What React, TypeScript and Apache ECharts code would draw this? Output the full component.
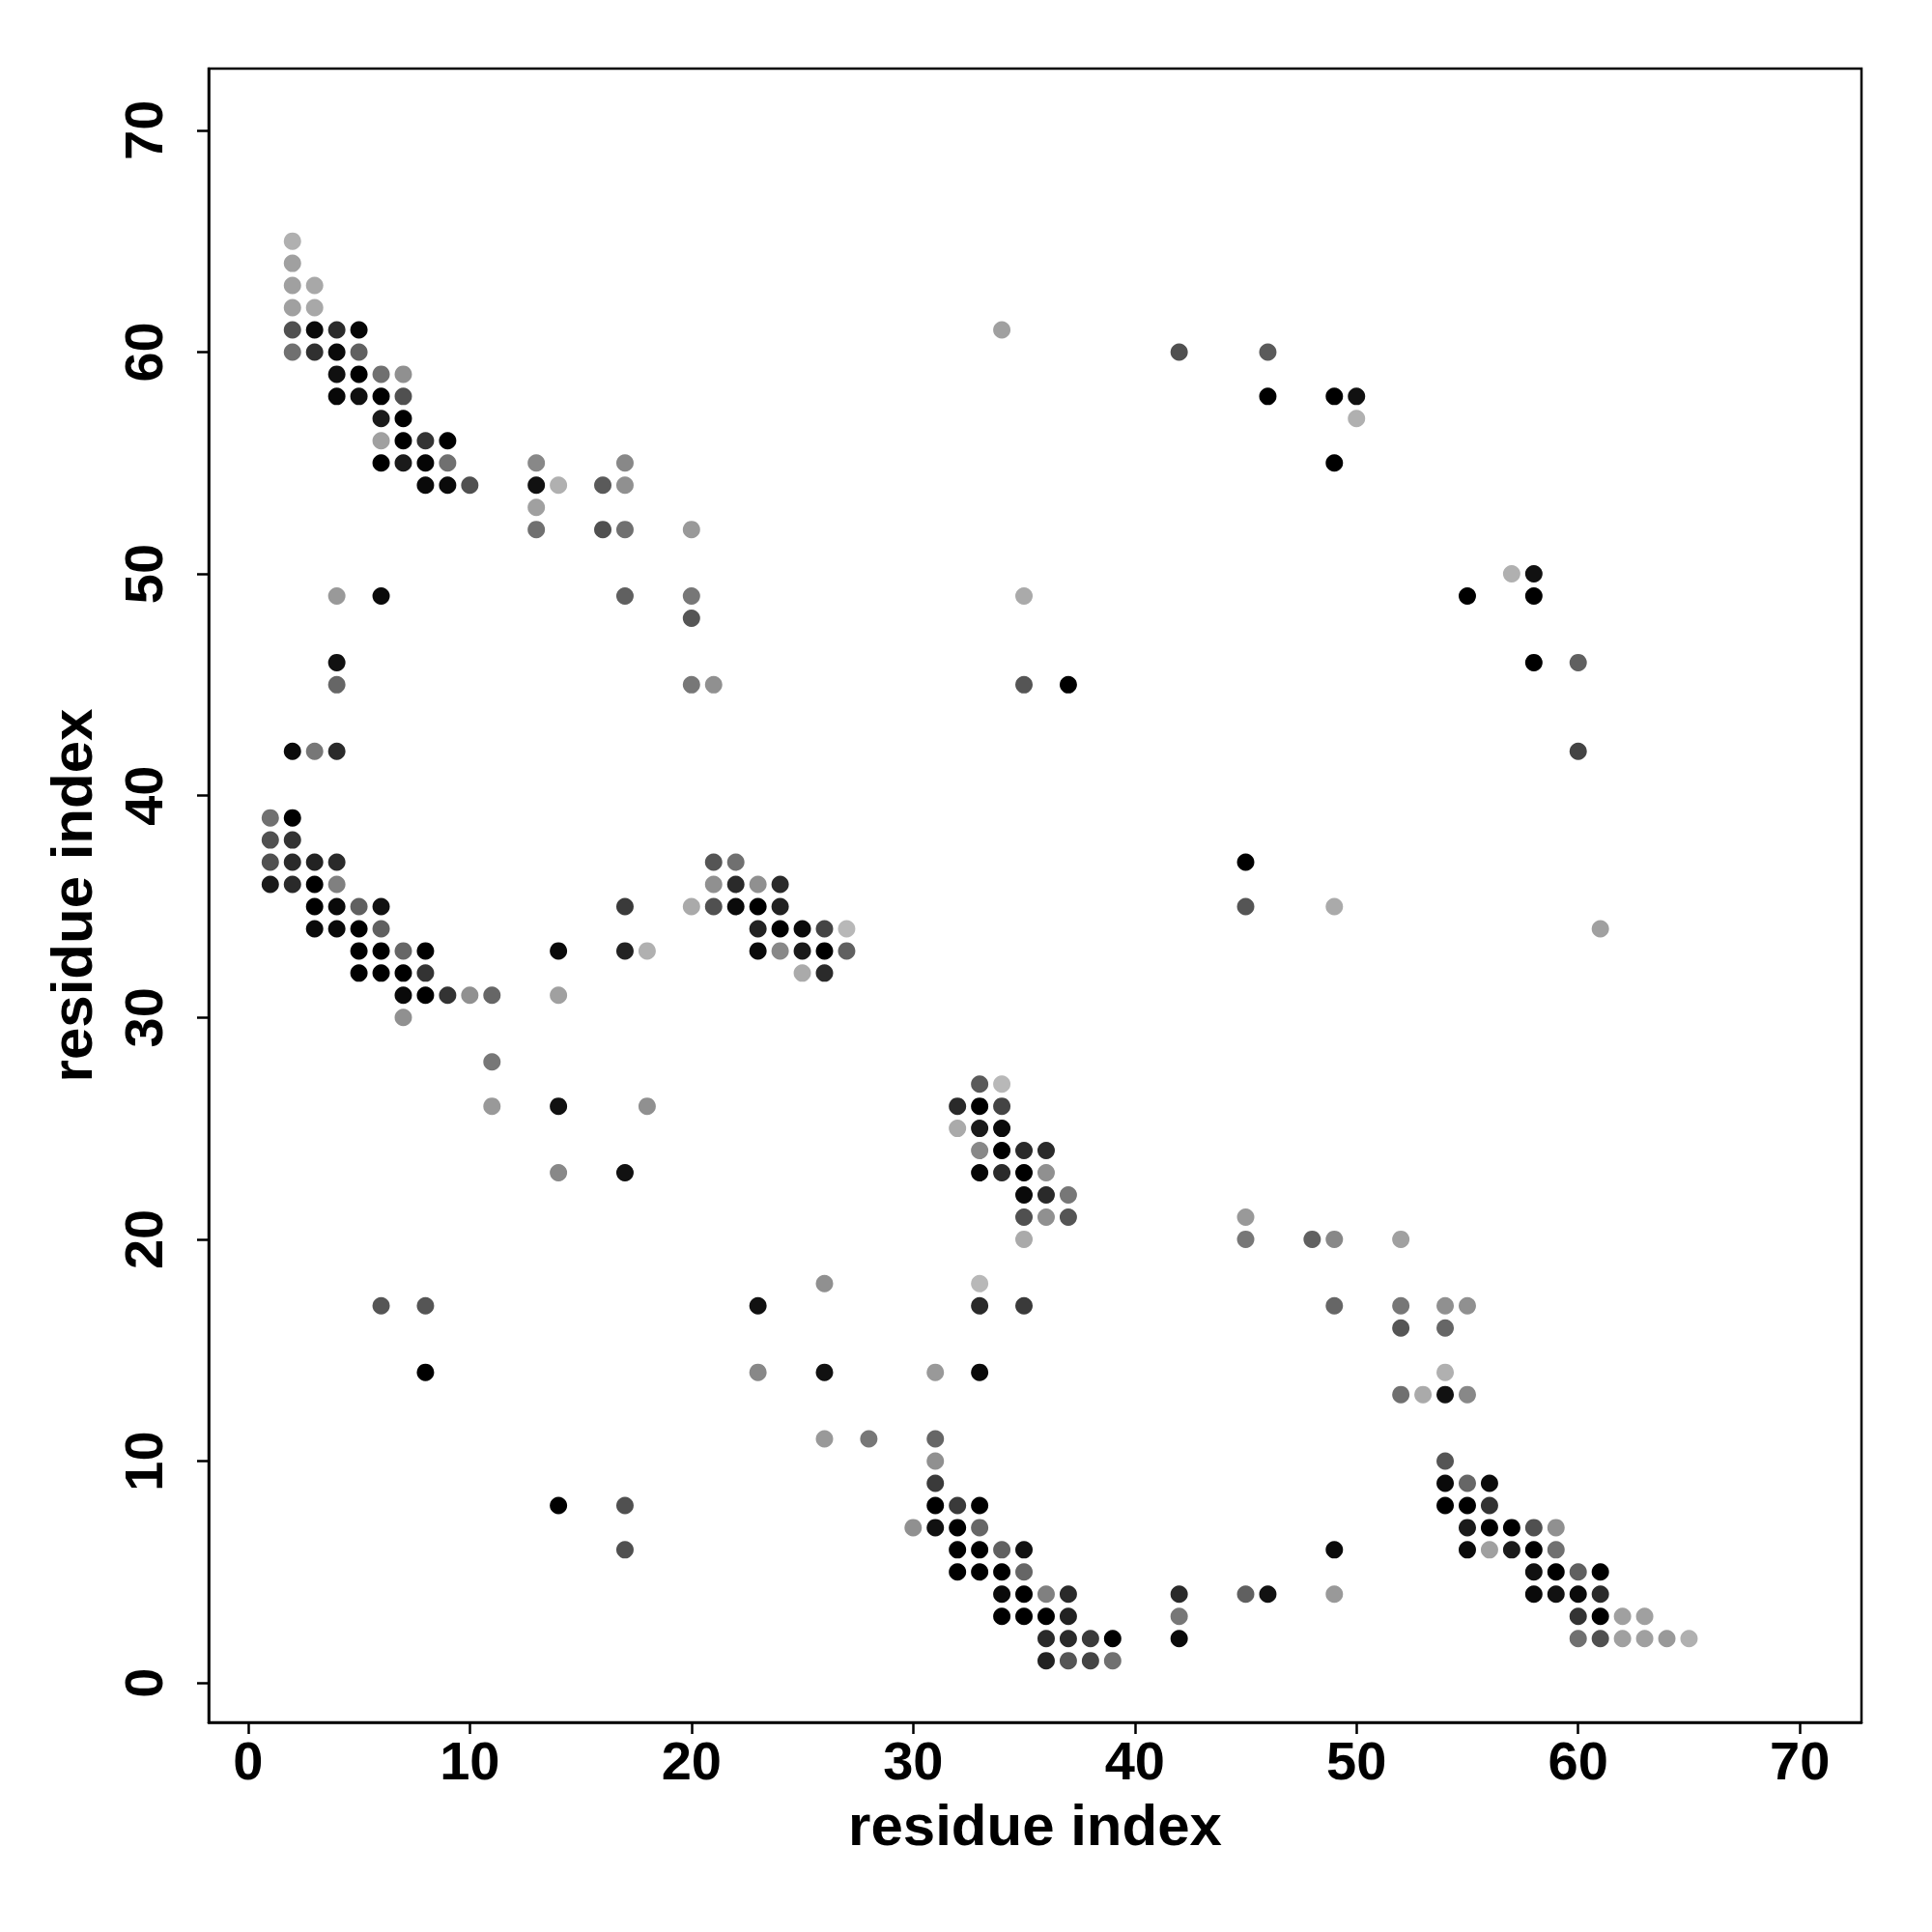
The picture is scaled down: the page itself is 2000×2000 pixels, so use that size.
import React, { useEffect, useRef } from "react";
import * as echarts from "echarts";

// residue contact map: x index, y index, grey shade (0 = black, 255 = white)
const xs = [
  2, 2, 2, 3, 2, 3, 2, 3, 4, 5, 34, 2, 3, 4, 5, 42, 46, 4, 5, 6, 7, 4, 5, 6, 7, 46, 49, 50, 6, 7, 50,
  6, 7, 8, 9, 6, 7, 8, 9, 13, 17, 49, 8, 9, 10, 13, 14, 16, 17, 13, 13, 16, 17, 20, 57, 58,
  4, 6, 17, 20, 35, 55, 58, 20, 4, 58, 60, 4, 20, 21, 35, 37, 2, 3, 4, 60, 1, 2, 1, 2,
  1, 2, 3, 4, 21, 22, 45, 1, 2, 3, 4, 21, 22, 23, 24,
  3, 4, 5, 6, 17, 20, 21, 22, 23, 24, 45, 49,
  3, 4, 5, 6, 23, 24, 25, 26, 27, 61,
  5, 6, 7, 8, 14, 17, 18, 23, 24, 25, 26, 27,
  5, 6, 7, 8, 25, 26, 7, 8, 9, 10, 11, 14, 7, 11, 33, 34,
  11, 14, 18, 32, 33, 34, 32, 33, 34, 33, 34, 35, 36,
  14, 17, 33, 34, 35, 36, 35, 36, 37, 35, 36, 37, 45, 35, 45, 48, 49, 52,
  26, 33, 6, 8, 23, 33, 35, 49, 52, 54, 55, 52, 54,
  8, 23, 26, 31, 33, 54, 52, 53, 54, 55, 26, 28, 31, 31, 54, 31, 54, 55, 56,
  14, 17, 31, 32, 33, 54, 55, 56, 30, 31, 32, 33, 55, 56, 57, 58, 59,
  17, 32, 33, 34, 35, 49, 55, 56, 57, 58, 59, 32, 33, 34, 35, 58, 59, 60, 61,
  34, 35, 36, 37, 42, 45, 46, 49, 58, 59, 60, 61,
  34, 35, 36, 37, 42, 60, 61, 62, 63,
  36, 37, 38, 39, 42, 60, 61, 62, 63, 64, 65, 36, 37, 38, 39,
];
const ys = [
  65, 64, 63, 63, 62, 62, 61, 61, 61, 61, 61, 60, 60, 60, 60, 60, 60, 59, 59, 59, 59, 58, 58, 58, 58, 58, 58, 58, 57, 57, 57,
  56, 56, 56, 56, 55, 55, 55, 55, 55, 55, 55, 54, 54, 54, 54, 54, 54, 54, 53, 52, 52, 52, 52, 50, 50,
  49, 49, 49, 49, 49, 49, 49, 48, 46, 46, 46, 45, 45, 45, 45, 45, 42, 42, 42, 42, 39, 39, 38, 38,
  37, 37, 37, 37, 37, 37, 37, 36, 36, 36, 36, 36, 36, 36, 36,
  35, 35, 35, 35, 35, 35, 35, 35, 35, 35, 35, 35,
  34, 34, 34, 34, 34, 34, 34, 34, 34, 34,
  33, 33, 33, 33, 33, 33, 33, 33, 33, 33, 33, 33,
  32, 32, 32, 32, 32, 32, 31, 31, 31, 31, 31, 31, 30, 28, 27, 27,
  26, 26, 26, 26, 26, 26, 25, 25, 25, 24, 24, 24, 24,
  23, 23, 23, 23, 23, 23, 22, 22, 22, 21, 21, 21, 21, 20, 20, 20, 20, 20,
  18, 18, 17, 17, 17, 17, 17, 17, 17, 17, 17, 16, 16,
  14, 14, 14, 14, 14, 14, 13, 13, 13, 13, 11, 11, 11, 10, 10, 9, 9, 9, 9,
  8, 8, 8, 8, 8, 8, 8, 8, 7, 7, 7, 7, 7, 7, 7, 7, 7,
  6, 6, 6, 6, 6, 6, 6, 6, 6, 6, 6, 5, 5, 5, 5, 5, 5, 5, 5,
  4, 4, 4, 4, 4, 4, 4, 4, 4, 4, 4, 4,
  3, 3, 3, 3, 3, 3, 3, 3, 3,
  2, 2, 2, 2, 2, 2, 2, 2, 2, 2, 2, 1, 1, 1, 1,
];
const shades = [
  176, 160, 160, 168, 160, 168, 80, 10, 42, 5, 160, 112, 48, 10, 96, 80, 90, 16, 0, 112, 144, 8, 16, 0, 80, 0, 0, 17, 26, 0, 176,
  160, 0, 51, 0, 0, 26, 5, 112, 136, 136, 0, 10, 10, 80, 17, 176, 90, 144, 160, 112, 80, 112, 153, 176, 17,
  153, 10, 96, 119, 170, 0, 0, 85, 17, 0, 96, 102, 119, 144, 85, 0, 10, 119, 42, 68, 112, 0, 80, 51,
  80, 42, 34, 42, 85, 112, 0, 26, 42, 0, 128, 144, 42, 144, 42,
  0, 10, 96, 17, 58, 170, 80, 10, 0, 34, 85, 170,
  10, 10, 0, 96, 34, 0, 10, 68, 184, 160,
  0, 0, 102, 0, 10, 34, 176, 10, 136, 26, 0, 96,
  0, 0, 0, 51, 170, 42, 10, 0, 51, 144, 102, 160, 144, 119, 90, 184,
  153, 17, 144, 42, 0, 68, 170, 26, 10, 136, 0, 42, 42,
  136, 17, 5, 42, 0, 144, 10, 42, 119, 80, 144, 85, 153, 170, 119, 96, 136, 160,
  144, 184, 85, 85, 17, 42, 58, 102, 119, 144, 144, 85, 102,
  0, 136, 17, 153, 10, 176, 112, 170, 17, 136, 153, 119, 102, 144, 85, 58, 10, 102, 10,
  0, 80, 0, 58, 0, 0, 0, 51, 144, 17, 0, 102, 26, 0, 0, 80, 144,
  80, 0, 0, 96, 17, 10, 10, 160, 26, 0, 112, 0, 0, 0, 102, 17, 0, 96, 0,
  10, 0, 128, 42, 42, 96, 17, 153, 10, 17, 10, 42,
  0, 0, 0, 34, 119, 51, 0, 160, 160,
  42, 42, 58, 0, 10, 112, 80, 160, 160, 153, 176, 34, 85, 68, 112,
];
const tickValues = [0, 10, 20, 30, 40, 50, 60, 70];
const xTitle = "residue index";
const yTitle = "residue index";

const FONT = "'Liberation Sans', Arial, Helvetica, sans-serif";

export default function App() {
  const ref = useRef<HTMLDivElement>(null);
  useEffect(() => {
    if (!ref.current) return;
    const chart = echarts.init(ref.current, null, { renderer: "svg" });
    const data = xs.map((x, i) => [x, ys[i], shades[i]]);
    const labelStyle = {
      fontSize: 56,
      fontWeight: "bold",
      color: "#000",
      fontFamily: FONT,
    };
    chart.setOption({
      animation: false,
      backgroundColor: "#ffffff",
      grid: {
        left: 216,
        top: 71,
        width: 1711,
        height: 1712,
        show: true,
        borderColor: "#000",
        borderWidth: 2.5,
        backgroundColor: "transparent",
        containLabel: false,
      },
      xAxis: {
        type: "value",
        min: -1.78,
        max: 72.78,
        splitLine: { show: false },
        axisLine: { show: true, onZero: false, lineStyle: { color: "#000", width: 2.5 } },
        axisTick: {
          show: true,
          customValues: tickValues,
          length: 12,
          inside: false,
          lineStyle: { color: "#000", width: 2.5 },
        },
        axisLabel: { ...labelStyle, customValues: tickValues, margin: 11 },
        name: xTitle,
        nameLocation: "middle",
        nameGap: 76,
        nameTextStyle: { ...labelStyle, fontSize: 60 },
      },
      yAxis: {
        type: "value",
        min: -1.78,
        max: 72.78,
        splitLine: { show: false },
        axisLine: { show: true, onZero: false, lineStyle: { color: "#000", width: 2.5 } },
        axisTick: {
          show: true,
          customValues: tickValues,
          length: 12,
          inside: false,
          lineStyle: { color: "#000", width: 2.5 },
        },
        axisLabel: { ...labelStyle, customValues: tickValues, margin: 40, rotate: 90 },
        name: yTitle,
        nameLocation: "middle",
        nameGap: 112,
        nameRotate: 90,
        nameTextStyle: { ...labelStyle, fontSize: 60 },
      },
      series: [
        {
          type: "scatter",
          data,
          symbol: "circle",
          symbolSize: 18,
          itemStyle: {
            opacity: 1,
            color: (p: any) => {
              const g = p.data[2];
              return `rgb(${g},${g},${g})`;
            },
          },
        },
      ],
    });
    return () => chart.dispose();
  }, []);
  return (
    <div
      ref={ref}
      style={{ position: "absolute", left: 0, top: 0, width: 2000, height: 2000 }}
    />
  );
}
